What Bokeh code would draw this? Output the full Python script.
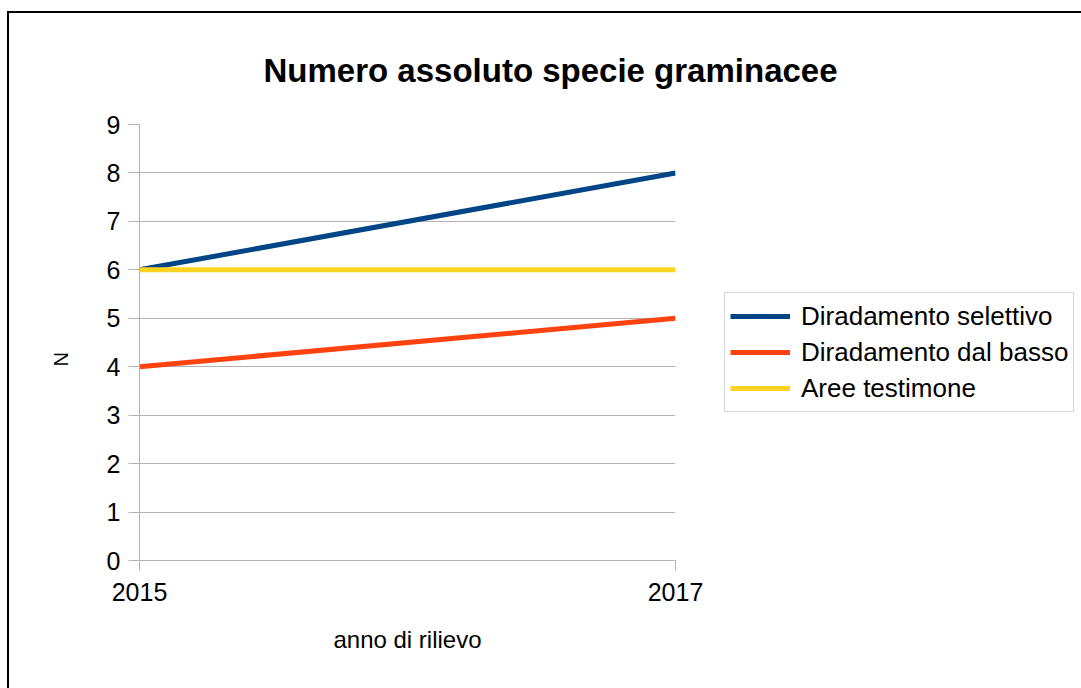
from bokeh.plotting import figure
from bokeh.models import Range1d, FixedTicker, Legend, LegendItem
from bokeh.embed import file_html
from bokeh.resources import INLINE

years = [2015, 2017]
selettivo = [6, 8]
dal_basso = [4, 5]
testimone = [6, 6]
series_names = ["Diradamento selettivo", "Diradamento dal basso", "Aree testimone"]
colors = ["#004586", "#ff420e", "#ffd320"]
y_ticks = [0, 1, 2, 3, 4, 5, 6, 7, 8, 9]

FONT = "Liberation Sans"
GRID = "#b3b3b3"

p = figure(frame_width=536, frame_height=436,
           min_border_left=130, min_border_right=406,
           min_border_top=111, min_border_bottom=131,
           x_range=Range1d(2015, 2017), y_range=Range1d(0, 9),
           output_backend="svg", toolbar_location=None,
           background_fill_color="white", border_fill_color="white")
p.styles = {"box-shadow": "-2px -2px 0px 0px black", "margin": "13px 0px 0px 9px"}
p.outline_line_color = None

p.title.text = "Numero assoluto specie graminacee"
p.title.text_font = FONT
p.title.text_font_size = "33px"
p.title.text_font_style = "bold"
p.title.text_color = "black"
p.title.align = "left"
p.title.offset = 124
p.title.standoff = 71

# axes
p.xaxis.ticker = FixedTicker(ticks=years)
p.yaxis.ticker = FixedTicker(ticks=y_ticks)
for ax in (p.xaxis[0], p.yaxis[0]):
    ax.axis_line_color = GRID
    ax.major_tick_line_color = GRID
    ax.minor_tick_line_color = None
    ax.major_tick_in = 0
    ax.major_label_text_font = FONT
    ax.major_label_text_font_size = "25px"
    ax.major_label_text_color = "black"
    ax.axis_label_text_font = FONT
    ax.axis_label_text_font_style = "normal"
    ax.axis_label_text_color = "black"
p.xaxis.major_tick_out = 10
p.yaxis.major_tick_out = 11
p.xaxis.major_label_standoff = 12
p.yaxis.major_label_standoff = 8
p.xaxis.axis_label = "anno di rilievo"
p.xaxis.axis_label_text_font_size = "24px"
p.xaxis.axis_label_standoff = 22
p.yaxis.axis_label = "N" + "\u00a0" * 6
p.yaxis.axis_label_text_font_size = "20px"
p.yaxis.axis_label_standoff = 32

p.xgrid.ticker = FixedTicker(ticks=years)
p.ygrid.ticker = FixedTicker(ticks=y_ticks)
p.xgrid.grid_line_color = GRID
p.ygrid.grid_line_color = GRID

r1 = p.line(years, selettivo, line_color=colors[0], line_width=5)
r2 = p.line(years, dal_basso, line_color=colors[1], line_width=5)
r3 = p.line(years, testimone, line_color=colors[2], line_width=5)

legend = Legend(items=[LegendItem(label=series_names[0], renderers=[r1]),
                       LegendItem(label=series_names[1], renderers=[r2]),
                       LegendItem(label=series_names[2], renderers=[r3])],
                location=(49, 148), orientation="vertical",
                border_line_color=GRID, border_line_width=1,
                background_fill_color="white", background_fill_alpha=1,
                padding=5, margin=0, spacing=0,
                glyph_width=60, glyph_height=36, label_height=36,
                label_standoff=11, label_width=267,
                label_text_font=FONT, label_text_font_size="26px",
                label_text_color="black")
p.add_layout(legend, "right")

open("out.html", "w").write(file_html(p, INLINE))
